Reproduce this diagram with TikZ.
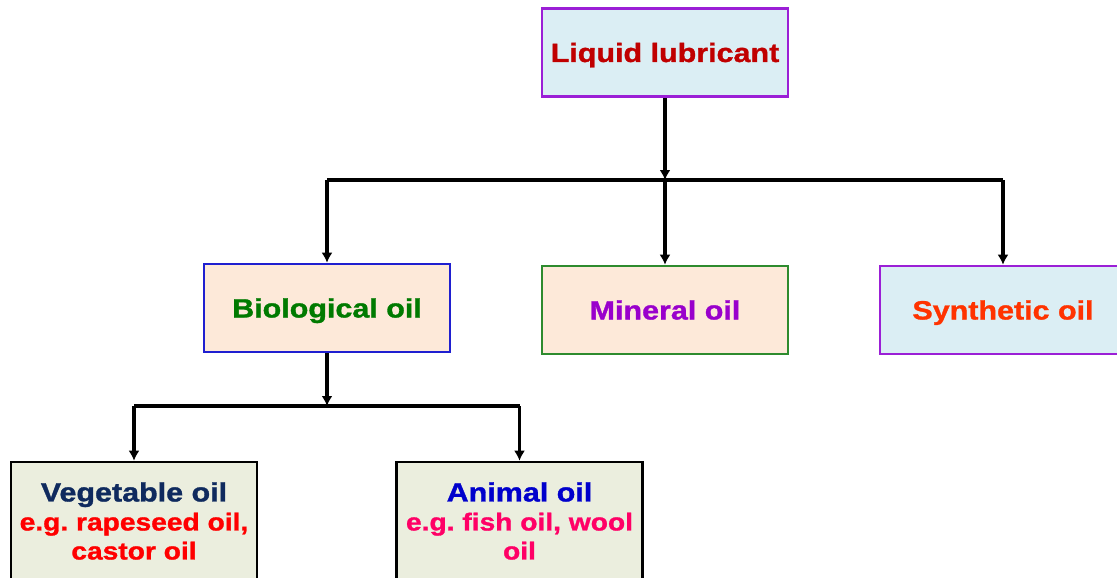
\documentclass[tikz,border=0pt]{standalone}
\usepackage{fontspec}
\setmainfont{Liberation Sans}
\newfontfamily\boxfont[FakeStretch=1.15,FakeBold=1.2]{Liberation Sans Bold}
\usetikzlibrary{arrows.meta}
\definecolor{lblue}{HTML}{DBEEF4}
\definecolor{peach}{HTML}{FDE9D9}
\definecolor{olivef}{HTML}{EBEEDE}
\definecolor{purp}{HTML}{9B1FD6}
\definecolor{bbord}{HTML}{1F1FD0}
\definecolor{gbord}{HTML}{2E8B2E}
\definecolor{tdred}{HTML}{C00000}
\definecolor{tgreen}{HTML}{007A00}
\definecolor{tpurp}{HTML}{9900CC}
\definecolor{torange}{HTML}{FF3300}
\definecolor{tnavy}{HTML}{0F2A5E}
\definecolor{tred}{HTML}{FF0000}
\definecolor{tblue}{HTML}{0000CC}
\definecolor{tpink}{HTML}{FF0066}
\newcommand\subtxt{\fontsize{24.5}{29}\selectfont}
\frenchspacing
\tikzset{
  box/.style={draw, line width=2.6pt, minimum width=246pt, minimum height=88pt, inner sep=0pt, align=center, font=\boxfont\fontsize{26.5}{29}\selectfont},
  one/.style={text height=19pt, text depth=0pt},
  conn/.style={line width=3.2pt, draw=black},
  arr/.style={conn, -{Latex[length=10pt,width=11pt]}}
}
\begin{document}
\begin{tikzpicture}[x=1pt,y=-1pt]
\useasboundingbox (0,0) rectangle (1117,578);
\clip (0,0) rectangle (1117,578);
\node[box, one, draw=purp, fill=lblue, text=tdred] (liq) at (665,52.5) {Liquid lubricant};
\node[box, one, draw=bbord, fill=peach, text=tgreen] (bio) at (327,308) {Biological oil};
\node[box, one, draw=gbord, fill=peach, text=tpurp] (min) at (665,310) {Mineral oil};
\node[box, one, draw=purp, fill=lblue, text=torange] (syn) at (1003,310) {Synthetic oil};
\node[box, draw=black, fill=olivef, minimum height=118pt] (veg) at (134,521) {\textcolor{tnavy}{Vegetable oil}\\\textcolor{tred}{\subtxt e.g. rapeseed oil,}\\\textcolor{tred}{\subtxt castor oil}};
\node[box, draw=black, fill=olivef, minimum height=118pt] (ani) at (519.5,521) {\textcolor{tblue}{Animal oil}\\\textcolor{tpink}{\subtxt e.g. fish oil, wool}\\\textcolor{tpink}{\subtxt oil}};
\coordinate (b1) at (327,180);
\coordinate (b2) at (665,180);
\coordinate (b3) at (1003,180);
\draw[arr] (liq.south) -- (b2);
\draw[conn] (b1) -- (b3);
\draw[arr] (b1) -- (bio.north);
\draw[arr] (b2) -- (min.north);
\draw[arr] (b3) -- (syn.north);
\coordinate (c0) at (327,406);
\coordinate (c1) at (134,406);
\coordinate (c2) at (519.5,406);
\draw[arr] (bio.south) -- (c0);
\draw[conn] (c1) -- (c2);
\draw[arr] (c1) -- (veg.north);
\draw[arr] (c2) -- (ani.north);
\end{tikzpicture}
\end{document}
